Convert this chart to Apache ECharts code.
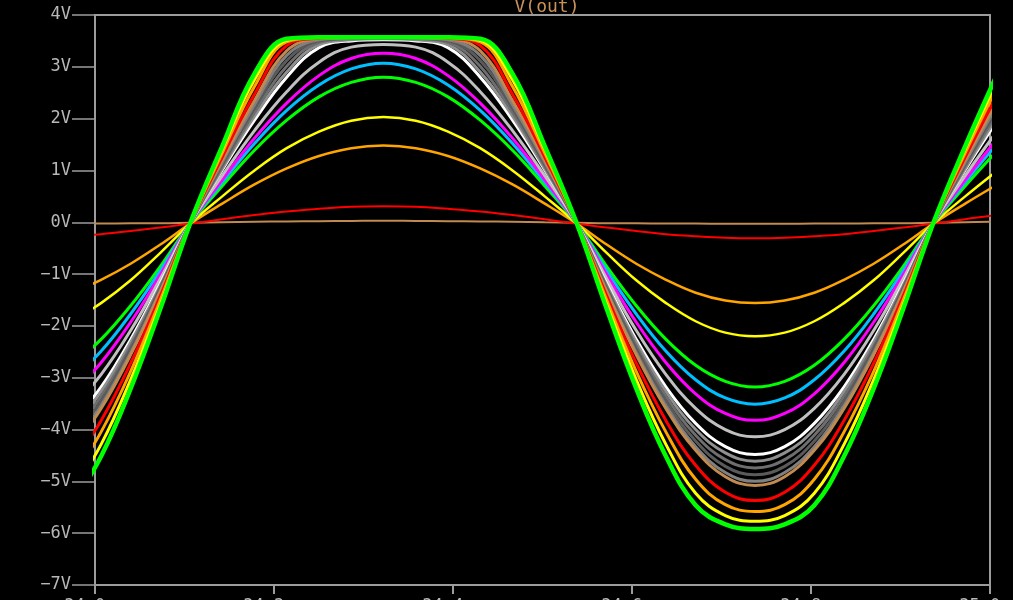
<!DOCTYPE html>
<html>
<head>
<meta charset="utf-8">
<script src="https://cdn.jsdelivr.net/npm/echarts@6/dist/echarts.min.js"></script>
<style>
html,body{margin:0;padding:0;background:#000;}
#chart{width:1013px;height:600px;}
</style>
</head>
<body>
<div id="chart"></div>
<script>
// time samples (ms)
const timeMs = [33.9735,34.0067,34.0398,34.0730,34.1061,34.1422,34.1782,34.2142,34.2503,34.2863,34.3223,34.3584,34.3944,34.4304,34.4665,34.5025,34.5385,34.5717,34.6048,34.6380,34.6711,34.7043,34.7374,34.7706,34.8037,34.8368,34.8700,34.9031,34.9363,34.9723,35.0084];

// V(out) per step (V)
const v01 = [-.025,-.025,-.02,-.02,-.01,0,.01,.015,.02,.025,.03,.025,.02,.015,.01,0,-.01,-.02,-.02,-.025,-.025,-.03,-.03,-.03,-.025,-.025,-.02,-.02,-.01,0,.01];
const v02 = [-.27,-.23,-.17,-.10,-.03,.06,.14,.21,.26,.30,.31,.30,.26,.21,.14,.06,-.03,-.10,-.17,-.23,-.27,-.30,-.31,-.30,-.27,-.23,-.17,-.10,-.03,.06,.14];
const v03 = [-1.36,-1.11,-.80,-.43,-.03,.36,.73,1.04,1.28,1.43,1.48,1.43,1.28,1.04,.73,.36,-.03,-.43,-.80,-1.11,-1.36,-1.51,-1.56,-1.51,-1.36,-1.11,-.80,-.43,-.03,.36,.73];
const v04 = [-1.91,-1.56,-1.12,-.59,-.03,.50,1.00,1.43,1.75,1.96,2.03,1.96,1.75,1.43,1.00,.50,-.03,-.59,-1.12,-1.56,-1.91,-2.13,-2.20,-2.13,-1.91,-1.56,-1.12,-.59,-.03,.50,1.00];
const v05 = [-2.76,-2.26,-1.61,-.85,-.03,.70,1.39,1.97,2.42,2.70,2.80,2.70,2.42,1.97,1.39,.70,-.03,-.85,-1.61,-2.26,-2.76,-3.07,-3.18,-3.07,-2.76,-2.26,-1.61,-.85,-.03,.70,1.39];
const v06 = [-3.04,-2.49,-1.77,-.93,-.03,.77,1.52,2.16,2.65,2.96,3.07,2.96,2.65,2.16,1.52,.77,-.03,-.93,-1.77,-2.49,-3.04,-3.39,-3.51,-3.39,-3.04,-2.49,-1.77,-.93,-.03,.77,1.52];
const v07 = [-3.31,-2.71,-1.93,-1.01,-.03,.82,1.62,2.30,2.83,3.16,3.26,3.16,2.83,2.30,1.62,.82,-.03,-1.01,-1.93,-2.71,-3.31,-3.69,-3.82,-3.69,-3.31,-2.71,-1.93,-1.01,-.03,.82,1.62];
const v08 = [-3.59,-2.94,-2.09,-1.09,-.03,.90,1.77,2.52,3.09,3.38,3.43,3.38,3.09,2.52,1.77,.90,-.03,-1.09,-2.09,-2.94,-3.59,-4.00,-4.14,-4.00,-3.59,-2.94,-2.09,-1.09,-.03,.90,1.77];
const v09 = [-3.88,-3.18,-2.26,-1.18,-.03,1.01,1.97,2.80,3.37,3.50,3.52,3.50,3.37,2.80,1.97,1.01,-.03,-1.18,-2.26,-3.18,-3.88,-4.33,-4.48,-4.33,-3.88,-3.18,-2.26,-1.18,-.03,1.01,1.97];
const v10 = [-4.00,-3.27,-2.32,-1.22,-.03,1.04,2.05,2.90,3.43,3.52,3.54,3.52,3.43,2.90,2.05,1.04,-.03,-1.22,-2.32,-3.27,-4.00,-4.45,-4.61,-4.45,-4.00,-3.27,-2.32,-1.22,-.03,1.04,2.05];
const v11 = [-4.11,-3.36,-2.39,-1.25,-.03,1.08,2.12,3.01,3.47,3.54,3.55,3.54,3.47,3.01,2.12,1.08,-.03,-1.25,-2.39,-3.36,-4.11,-4.58,-4.74,-4.58,-4.11,-3.36,-2.39,-1.25,-.03,1.08,2.12];
const v12 = [-4.22,-3.45,-2.45,-1.28,-.03,1.12,2.20,3.12,3.50,3.55,3.56,3.55,3.50,3.12,2.20,1.12,-.03,-1.28,-2.45,-3.45,-4.22,-4.71,-4.87,-4.71,-4.22,-3.45,-2.45,-1.28,-.03,1.12,2.20];
const v13 = [-4.33,-3.54,-2.52,-1.32,-.03,1.16,2.27,3.22,3.52,3.56,3.56,3.56,3.52,3.22,2.27,1.16,-.03,-1.32,-2.52,-3.54,-4.33,-4.83,-5.00,-4.83,-4.33,-3.54,-2.52,-1.32,-.03,1.16,2.27];
const v14 = [-4.40,-3.60,-2.56,-1.34,-.03,1.20,2.35,3.31,3.54,3.56,3.57,3.56,3.54,3.31,2.35,1.20,-.03,-1.34,-2.56,-3.60,-4.40,-4.91,-5.08,-4.91,-4.40,-3.60,-2.56,-1.34,-.03,1.20,2.35];
const v15 = [-4.69,-3.83,-2.72,-1.42,-.03,1.26,2.47,3.41,3.55,3.57,3.57,3.57,3.55,3.41,2.47,1.26,-.03,-1.42,-2.72,-3.83,-4.69,-5.21,-5.37,-5.21,-4.69,-3.83,-2.72,-1.42,-.03,1.26,2.47];
const v16 = [-4.96,-4.05,-2.88,-1.50,-.03,1.34,2.62,3.48,3.56,3.57,3.57,3.57,3.56,3.48,2.62,1.34,-.03,-1.50,-2.88,-4.05,-4.96,-5.45,-5.58,-5.45,-4.96,-4.05,-2.88,-1.50,-.03,1.34,2.62];
const v17 = [-5.23,-4.29,-3.04,-1.59,-.03,1.41,2.75,3.51,3.57,3.57,3.57,3.57,3.57,3.51,2.75,1.41,-.03,-1.59,-3.04,-4.29,-5.23,-5.66,-5.77,-5.66,-5.23,-4.29,-3.04,-1.59,-.03,1.41,2.75];
const v18 = [-5.46,-4.52,-3.21,-1.67,-.03,1.47,2.87,3.54,3.57,3.57,3.57,3.57,3.57,3.54,2.87,1.47,-.03,-1.67,-3.21,-4.52,-5.46,-5.83,-5.92,-5.83,-5.46,-4.52,-3.21,-1.67,-.03,1.47,2.87];

const stepValues = [v01,v02,v03,v04,v05,v06,v07,v08,v09,v10,v11,v12,v13,v14,v15,v16,v17,v18];
const stepColors = ['#c08a50','#ff0000','#ffa500','#ffff00','#00ff00','#00bfff','#ff00ff','#c0c0c0','#ffffff','#909090','#6e6e6e','#5a5a5a','#808080','#c08a50','#ff0000','#ffa500','#ffff00','#00ff00'];
const stepWidths = [2,2,2.5,2.5,3,3,3,3,3,3,3,3,3,3,3,3,3,4.5];

// axis
const yTicks = [-7,-6,-5,-4,-3,-2,-1,0,1,2,3,4];
const xTickLabels = ['34.0ms','34.2ms','34.4ms','34.6ms','34.8ms','35.0ms'];
const title = 'V(out)';

const chart = echarts.init(document.getElementById('chart'), null, {renderer:'canvas'});
const axisCol = '#9c9c9c';
const labelCol = '#b8b8b8';
const font = 'DejaVu Sans Mono';

const series = stepValues.map((vals, i) => ({
  type: 'line',
  data: vals.map((v, k) => [timeMs[k], v]),
  showSymbol: false,
  smooth: 0.4,
  clip: true,
  lineStyle: {color: stepColors[i], width: stepWidths[i]},
  emphasis: {disabled: true},
  z: 2 + i
}));

chart.setOption({
  backgroundColor: '#000000',
  animation: false,
  title: {
    text: title, left: 542, textAlign: 'center', top: -7,
    textStyle: {color: '#c8915a', fontFamily: font, fontSize: 18, fontWeight: 'normal'}
  },
  grid: {left: 95, right: 23, top: 15, bottom: 15, outerBoundsMode: 'none', containLabel: false,
    show: true, borderColor: axisCol, borderWidth: 2, backgroundColor: 'transparent'},
  xAxis: {
    type: 'value', min: 34.0, max: 35.0, interval: 0.2,
    axisLine: {show: true, onZero: false, lineStyle: {color: axisCol, width: 2}},
    axisTick: {show: true, length: 9, lineStyle: {color: axisCol, width: 2}},
    splitLine: {show: false},
    axisLabel: {color: labelCol, fontFamily: font, fontSize: 17, margin: 13.5, hideOverlap: false,
      formatter: (v) => { const i = Math.round((v - 34.0) / 0.2); return xTickLabels[i] || ''; }}
  },
  yAxis: {
    type: 'value', min: yTicks[0], max: yTicks[yTicks.length-1], interval: 1,
    axisLine: {show: true, onZero: false, lineStyle: {color: axisCol, width: 2}},
    axisTick: {show: true, length: 23, lineStyle: {color: axisCol, width: 1.5}},
    splitLine: {show: false},
    axisLabel: {color: labelCol, fontFamily: font, fontSize: 17, margin: 24,
      formatter: (v) => (v < 0 ? '\u2212' + Math.abs(v) : String(v)) + 'V'}
  },
  series: series
});
</script>
</body>
</html>
